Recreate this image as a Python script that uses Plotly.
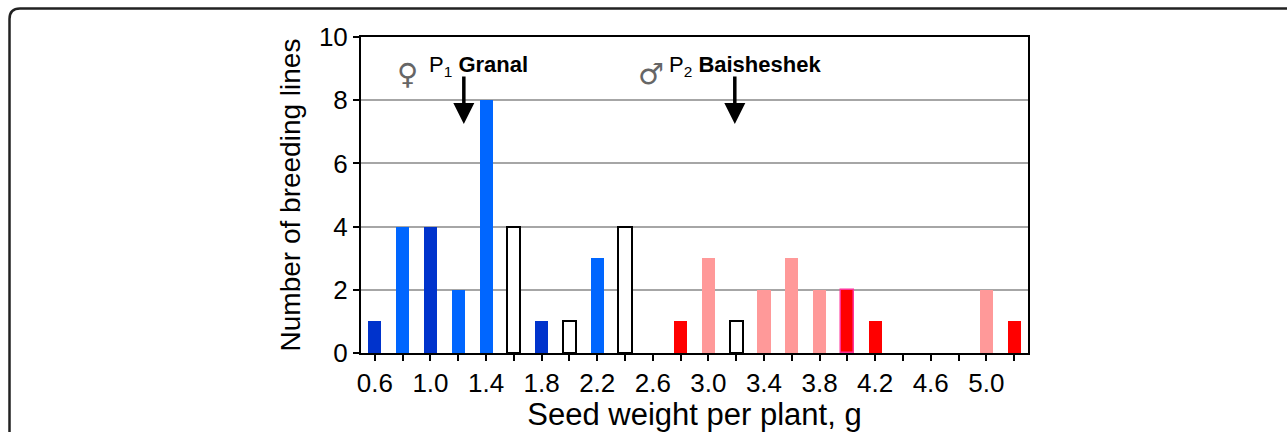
import plotly.graph_objects as go

# ---- data ----
bins = [0.6, 0.8, 1.0, 1.2, 1.4, 1.6, 1.8, 2.0, 2.2, 2.4, 2.6, 2.8,
        3.0, 3.2, 3.4, 3.6, 3.8, 4.0, 4.2, 4.4, 4.6, 4.8, 5.0, 5.2]
counts = [1, 4, 4, 2, 8, 4, 1, 1, 3, 4, 0, 1,
          3, 1, 2, 3, 2, 2, 1, 0, 0, 0, 2, 1]
groups = ["dark", "blue", "dark", "blue", "blue", "white", "dark", "white", "blue", "white", "none", "red",
          "pink", "white", "pink", "pink", "pink", "redm", "red", "none", "none", "none", "pink", "red"]
tick_labels = ["0.6", "1.0", "1.4", "1.8", "2.2", "2.6", "3.0", "3.4", "3.8", "4.2", "4.6", "5.0"]
parent_weights = [1.24, 3.19]
parent_labels = ["P<sub>1</sub> <b>Granal</b>", "P<sub>2</sub> <b>Baisheshek</b>"]
parent_symbols = ["\u2640", "\u2642"]

# ---- styles ----
fill_map = {"dark": "#0033CC", "blue": "#0066FF", "white": "#FFFFFF", "red": "#FF0000",
            "redm": "#FF0000", "pink": "#FF9999", "none": "#FFFFFF"}
line_map = {"dark": "#0033CC", "blue": "#0066FF", "white": "#000000", "red": "#FF0000",
            "redm": "#FF3399", "pink": "#FF9999", "none": "#FFFFFF"}
line_w = {"dark": 0, "blue": 0, "white": 2, "red": 0, "redm": 1.5, "pink": 0, "none": 0}

FONT = "Liberation Sans, Arial, sans-serif"

fig = go.Figure()
fig.add_trace(go.Bar(
    x=bins, y=counts, width=0.094,
    marker=dict(color=[fill_map[g] for g in groups],
                line=dict(color=[line_map[g] for g in groups],
                          width=[line_w[g] for g in groups])),
    showlegend=False, hoverinfo="x+y",
))

W, H = 1287, 432
L, R, T, B = 361, 1028, 37, 353
pw, ph = R - L, B - T


def xp(px):
    return (px - L) / pw


def yp(py):
    return (B - py) / ph


border = (f"M {xp(9.5)},{yp(445)} L {xp(9.5)},{yp(19)} "
          f"Q {xp(9.5)},{yp(8.5)} {xp(20)},{yp(8.5)} L {xp(1300)},{yp(8.5)}")

annotations = []
text_x = [427, 667]
sym_x = [407, 651]
for i in range(2):
    annotations.append(dict(
        x=parent_weights[i], y=7.25, ax=parent_weights[i], ay=8.8,
        xref="x", yref="y", axref="x", ayref="y",
        showarrow=True, arrowhead=2, arrowsize=1.2, arrowwidth=3.5, arrowcolor="#000000", text=""))
    annotations.append(dict(
        x=xp(text_x[i]), y=yp(66), xref="paper", yref="paper",
        text=parent_labels[i], showarrow=False, xanchor="left", yanchor="middle",
        font=dict(family=FONT, size=22, color="#000000")))
    annotations.append(dict(
        x=xp(sym_x[i]), y=yp(74), xref="paper", yref="paper",
        text=parent_symbols[i], showarrow=False, xanchor="center", yanchor="middle",
        font=dict(family="DejaVu Sans, sans-serif", size=29, color="#666666")))

fig.update_layout(
    width=W, height=H,
    margin=dict(l=L, r=W - R, t=T, b=H - B, pad=0),
    paper_bgcolor="white", plot_bgcolor="white",
    font=dict(family=FONT, color="#000000"),
    bargap=0,
    shapes=[dict(type="path", path=border, xref="paper", yref="paper",
                 line=dict(color="#222222", width=2.5), layer="above")],
    annotations=annotations,
)

fig.update_xaxes(
    range=[0.5, 5.3], automargin=False,
    tickmode="array",
    tickvals=bins,
    ticktext=[f"{b:.1f}" if f"{b:.1f}" in tick_labels else "" for b in bins],
    ticks="outside", ticklen=6, tickwidth=2, tickcolor="#000000",
    showline=True, linecolor="#000000", linewidth=2, mirror=True,
    showgrid=False, zeroline=False,
    tickfont=dict(size=26, family=FONT),
    title=dict(text="Seed weight per plant, g", font=dict(size=31, family=FONT), standoff=8),
)
fig.update_yaxes(
    range=[0, 10], dtick=2, automargin=False,
    ticks="outside", ticklen=6, tickwidth=2, tickcolor="#000000",
    showline=True, linecolor="#000000", linewidth=2, mirror=True,
    showgrid=True, gridcolor="#A6A6A6", gridwidth=1.5, zeroline=False,
    tickfont=dict(size=26, family=FONT),
    title=dict(text="Number of breeding lines", font=dict(size=28, family=FONT), standoff=10),
)

fig.write_html("out.html", config={"displayModeBar": False},
               post_script="document.body.style.margin='0';")
